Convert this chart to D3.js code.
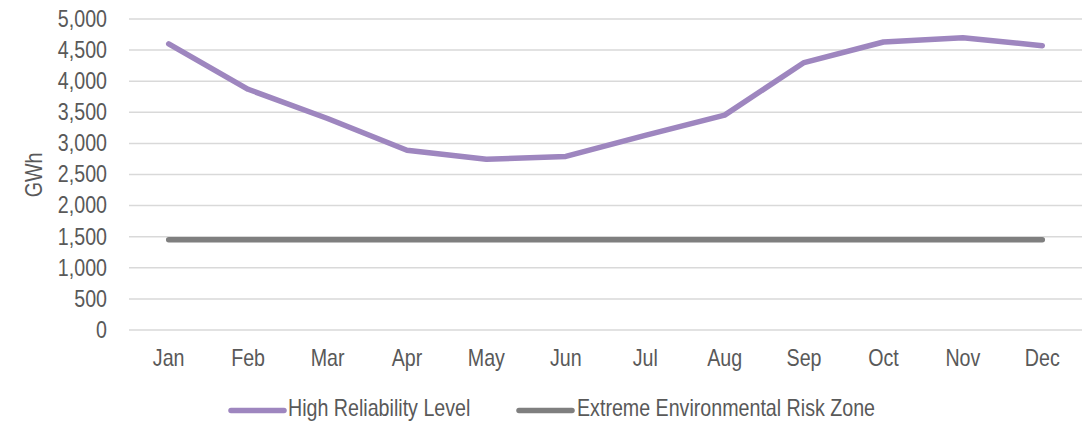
<!DOCTYPE html>
<html><head><meta charset="utf-8">
<script src="https://cdn.jsdelivr.net/npm/d3@7"></script>
<style>
body{margin:0;background:#fff;}
text{font-family:"Liberation Sans Narrow","Arial Narrow","Liberation Sans",Arial,sans-serif;fill:#595959;}
</style></head>
<body><svg id="c" width="1089" height="422"></svg>
<script>
const months = ["Jan","Feb","Mar","Apr","May","Jun","Jul","Aug","Sep","Oct","Nov","Dec"];
const highReliability = [4600,3870,3400,2890,2745,2790,3130,3455,4300,4630,4700,4570];
const extremeRisk = [1450,1450,1450,1450,1450,1450,1450,1450,1450,1450,1450,1450];
const yTicks = [0,500,1000,1500,2000,2500,3000,3500,4000,4500,5000];
const seriesNames = ["High Reliability Level","Extreme Environmental Risk Zone"];
const colors = ["#9e86bf","#7f7f7f"];

const svg = d3.select("#c");
const m = {l:129, r:1082, t:19, b:330};
const x = d3.scaleBand().domain(months).range([m.l, m.r]);
const y = d3.scaleLinear().domain([0,5000]).range([m.b, m.t]);
const fs = 23, sx = 0.855;

// gridlines
svg.append("g").selectAll("line").data(yTicks).join("line")
  .attr("x1", m.l).attr("x2", m.r)
  .attr("y1", d=>y(d)).attr("y2", d=>y(d))
  .attr("stroke","#d9d9d9").attr("stroke-width",1.5);

// y axis
const ya = svg.append("g").attr("transform",`translate(${m.l},0)`)
  .call(d3.axisLeft(y).tickValues(yTicks).tickFormat(d3.format(",")).tickSize(0).tickPadding(22));
ya.select(".domain").remove();
ya.selectAll("text").attr("font-size",fs).attr("font-family",null).attr("fill","#595959")
  .attr("x",-22/sx).attr("transform",`scale(${sx},1)`);

// x axis
const xa = svg.append("g").attr("transform",`translate(0,${m.b})`)
  .call(d3.axisBottom(x).tickSize(0).tickPadding(20));
xa.select(".domain").remove();
xa.selectAll("text").attr("font-size",fs).attr("font-family",null).attr("fill","#595959")
  .attr("transform",`scale(${sx},1)`);

// y title
svg.append("text").attr("transform",`translate(42,175) rotate(-90) scale(${sx},1)`)
  .attr("text-anchor","middle").attr("font-size",fs).text("GWh");

const line = d3.line().x((d,i)=>x(months[i])+x.bandwidth()/2).y(d=>y(d));
[highReliability, extremeRisk].forEach((s,i)=>{
  svg.append("path").datum(s).attr("d",line)
    .attr("fill","none").attr("stroke",colors[i]).attr("stroke-width",5.5)
    .attr("stroke-linecap","round").attr("stroke-linejoin","round");
});

// legend
const lg = [{x:231,tx:288},{x:519,tx:577}];
seriesNames.forEach((n,i)=>{
  svg.append("line").attr("x1",lg[i].x).attr("x2",lg[i].x+53).attr("y1",410.5).attr("y2",410.5)
    .attr("stroke",colors[i]).attr("stroke-width",5.5).attr("stroke-linecap","round");
  svg.append("text").attr("transform",`translate(${lg[i].tx},416) scale(${sx},1)`)
    .attr("font-size",fs).text(n);
});
</script></body></html>
